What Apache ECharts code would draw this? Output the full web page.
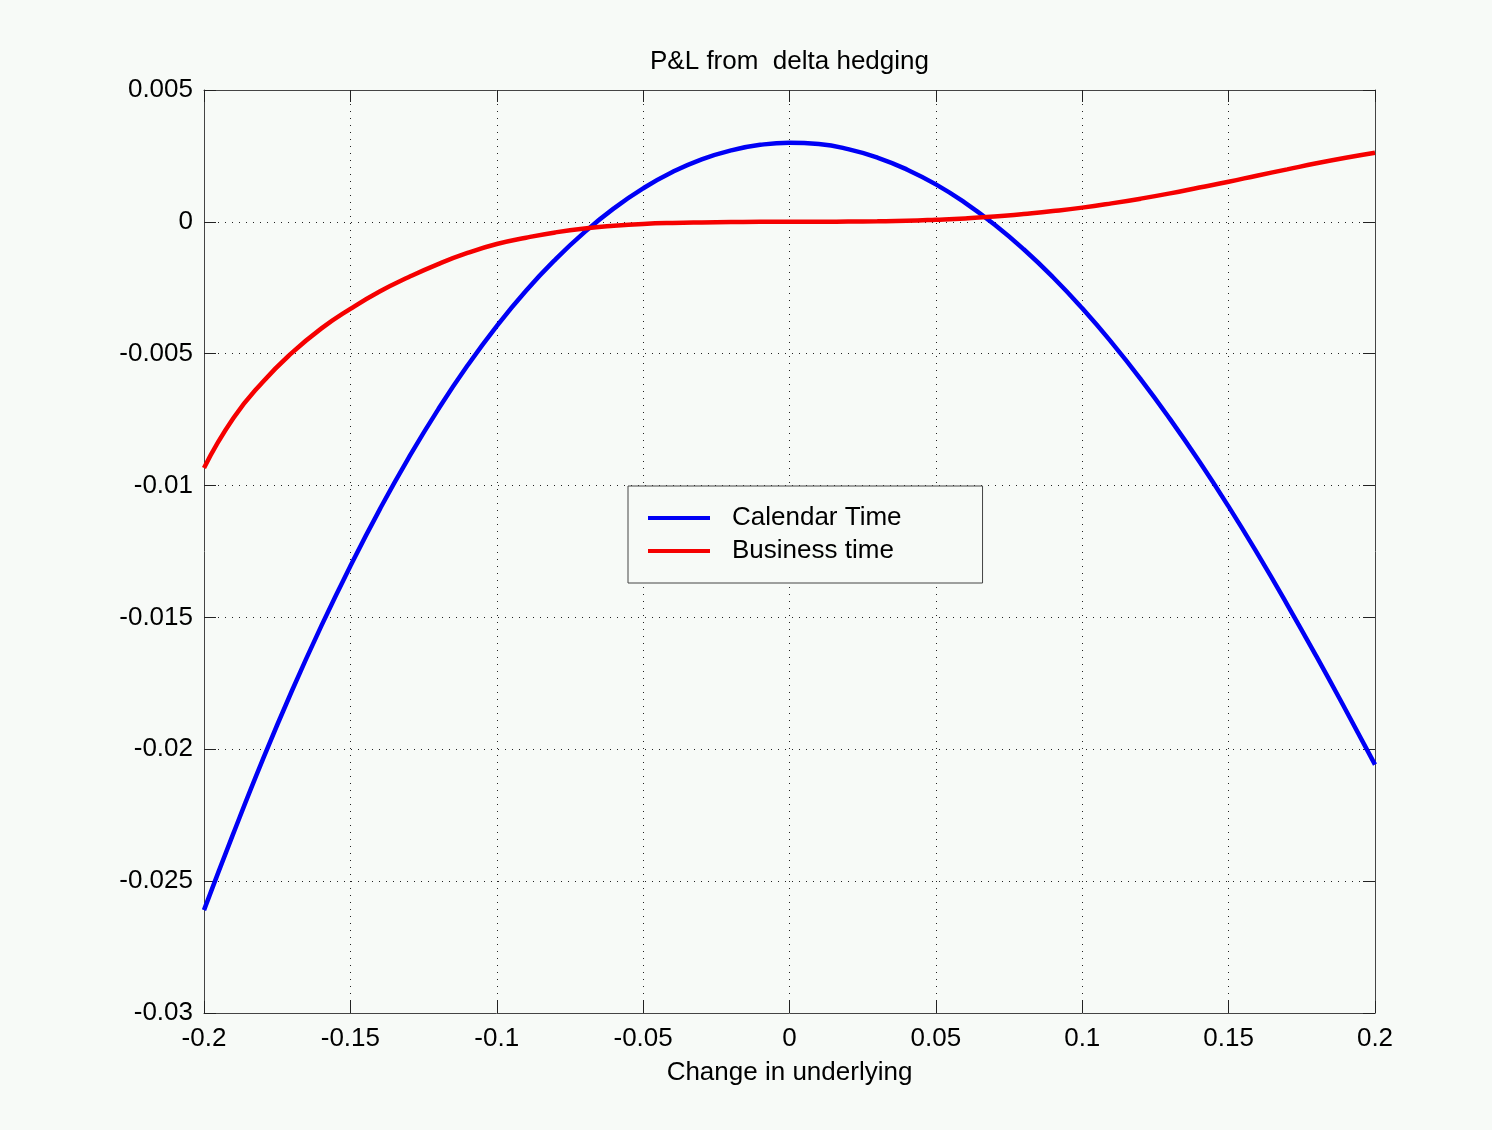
<!DOCTYPE html>
<html lang="en" style="height: 100%">
<head>
  <meta charset="utf-8">
</head>
<body style="height: 100%; margin: 0; background: #f7faf7">
  <div id="container" style="height: 100%"></div>

  <script type="text/javascript" src="https://cdn.jsdelivr.net/npm/echarts@6/dist/echarts.min.js"></script>

  <script type="text/javascript">
    var dom = document.getElementById('container');
    var myChart = echarts.init(dom, null, { renderer: 'canvas' });

    // change in underlying
    const xs = [
      -0.20, -0.19, -0.18, -0.17, -0.16, -0.15, -0.14, -0.13, -0.12, -0.11,
      -0.10, -0.09, -0.08, -0.07, -0.06, -0.05, -0.04, -0.03, -0.02, -0.01,
      0.00, 0.01, 0.02, 0.03, 0.04, 0.05, 0.06, 0.07, 0.08, 0.09,
      0.10, 0.11, 0.12, 0.13, 0.14, 0.15, 0.16, 0.17, 0.18, 0.19, 0.20
    ];
    // P&L, calendar time
    const calendarTime = [
      -0.02610, -0.02320, -0.02041, -0.01779, -0.01534, -0.01305, -0.01091, -0.00893, -0.00711, -0.00545,
      -0.00395, -0.00261, -0.00143, -0.00039, 0.00051, 0.00127, 0.00189, 0.00237, 0.00271, 0.00292,
      0.00300, 0.00295, 0.00276, 0.00244, 0.00199, 0.00142, 0.00072, -0.00010, -0.00104, -0.00210,
      -0.00328, -0.00457, -0.00597, -0.00748, -0.00909, -0.01080, -0.01261, -0.01451, -0.01648, -0.01851, -0.02058
    ];
    // P&L, business time
    const businessTime = [
      -0.00933, -0.00745, -0.00608, -0.00497, -0.00405, -0.00330, -0.00264, -0.00209, -0.00160, -0.00118,
      -0.00084, -0.00060, -0.00040, -0.00025, -0.00015, -0.00008, -0.00004, -0.00002, -0.00001, 0.00000,
      0.00000, 0.00000, 0.00001, 0.00002, 0.00004, 0.00008, 0.00013, 0.00020, 0.00030, 0.00041,
      0.00054, 0.00070, 0.00088, 0.00108, 0.00130, 0.00152, 0.00176, 0.00199, 0.00222, 0.00243, 0.00262
    ];

    const font = "'Liberation Sans', Arial, sans-serif";
    const boxColor = '#444';
    const gridLine = { show: true, lineStyle: { type: [1, 6], color: '#222', width: 1 } };

    function pairs(ys) {
      return xs.map(function (x, i) { return [x, ys[i]]; });
    }

    var option = {
      backgroundColor: '#f7faf7',
      textStyle: { fontFamily: font },
      grid: { left: 204, right: 117, top: 90, bottom: 117, containLabel: false },
      legend: {
        orient: 'vertical',
        left: 628,
        top: 486,
        padding: [17, 81, 17, 20],
        itemGap: 3,
        itemWidth: 62,
        itemHeight: 4,
        icon: 'rect',
        backgroundColor: '#f7faf7',
        borderColor: boxColor,
        borderWidth: 1,
        borderRadius: 0,
        textStyle: { fontSize: 26, color: '#000', fontFamily: font, lineHeight: 30, padding: [0, 0, 0, 17] },
        data: ['Calendar Time', 'Business time']
      },
      xAxis: [
        {
          type: 'value', min: -0.2, max: 0.2, interval: 0.05, position: 'bottom',
          name: 'Change in underlying', nameLocation: 'middle', nameGap: 47,
          nameTextStyle: { fontSize: 26, color: '#000', fontFamily: font },
          axisLine: { onZero: false, lineStyle: { color: boxColor, width: 1 } },
          axisTick: { inside: true, length: 12, lineStyle: { color: '#222' } },
          axisLabel: { fontSize: 26, color: '#000', margin: 13, fontFamily: font },
          splitLine: gridLine
        },
        {
          type: 'value', min: -0.2, max: 0.2, interval: 0.05, position: 'top',
          name: 'P&L from  delta hedging', nameLocation: 'middle', nameGap: 15,
          nameTextStyle: { fontSize: 26, color: '#000', fontFamily: font },
          axisLine: { onZero: false, lineStyle: { color: boxColor, width: 1 } },
          axisTick: { inside: true, length: 12, lineStyle: { color: '#222' } },
          axisLabel: { show: false },
          splitLine: { show: false }
        }
      ],
      yAxis: [
        {
          type: 'value', min: -0.03, max: 0.005, interval: 0.005, position: 'left',
          axisLine: { show: true, onZero: false, lineStyle: { color: boxColor, width: 1 } },
          axisTick: { show: true, inside: true, length: 12, lineStyle: { color: '#222' } },
          axisLabel: { fontSize: 26, color: '#000', margin: 11, fontFamily: font },
          splitLine: gridLine
        },
        {
          type: 'value', min: -0.03, max: 0.005, interval: 0.005, position: 'right',
          axisLine: { show: true, onZero: false, lineStyle: { color: boxColor, width: 1 } },
          axisTick: { show: true, inside: true, length: 12, lineStyle: { color: '#222' } },
          axisLabel: { show: false },
          splitLine: { show: false }
        }
      ],
      series: [
        {
          name: 'Calendar Time',
          type: 'line',
          data: pairs(calendarTime),
          smooth: true,
          showSymbol: false,
          color: '#0000f5',
          lineStyle: { width: 4.5, color: '#0000f5' },
          animation: false
        },
        {
          name: 'Business time',
          type: 'line',
          data: pairs(businessTime),
          smooth: true,
          showSymbol: false,
          color: '#f50000',
          lineStyle: { width: 4.5, color: '#f50000' },
          animation: false
        }
      ]
    };

    myChart.setOption(option);
    window.addEventListener('resize', myChart.resize);
  </script>
</body>
</html>
